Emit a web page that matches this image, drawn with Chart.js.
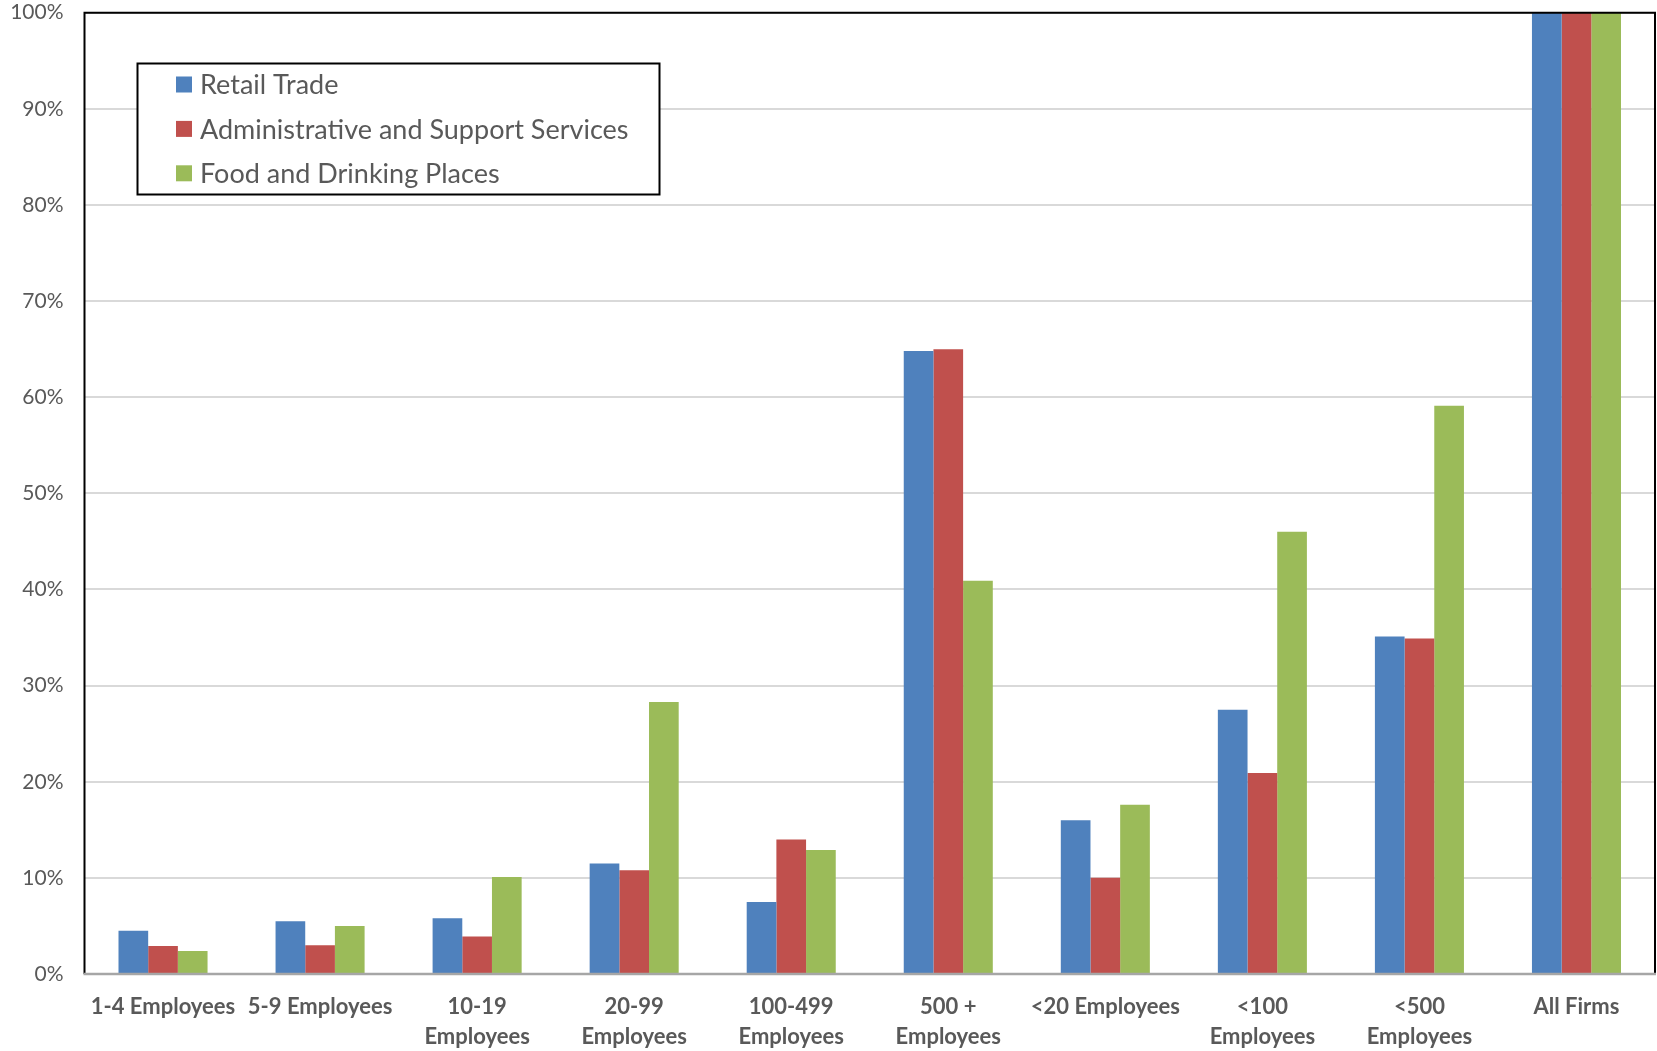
<!DOCTYPE html>
<html>
<head>
<meta charset="utf-8">
<script src="https://cdn.jsdelivr.net/npm/chart.js@4.4.1/dist/chart.umd.min.js"></script>
<style>
  html, body { margin: 0; padding: 0; background: #fff; }
  #wrap { width: 1657px; height: 1051px; position: relative; }
</style>
</head>
<body>
<div id="wrap"><canvas id="firmChart"></canvas></div>
<script>
// categories (x axis), multi-line labels as arrays
const categories = [
  "1-4 Employees",
  "5-9 Employees",
  ["10-19", "Employees"],
  ["20-99", "Employees"],
  ["100-499", "Employees"],
  ["500 +", "Employees"],
  "<20 Employees",
  ["<100", "Employees"],
  ["<500", "Employees"],
  "All Firms",
];

const seriesNames = [
  "Retail Trade",
  "Administrative and Support Services",
  "Food and Drinking Places",
];

// percent values
const retailTrade = [4.5, 5.5, 5.8, 11.5, 7.5, 64.8, 16.0, 27.5, 35.1, 100];
const adminSupport = [2.9, 3.0, 3.9, 10.8, 14.0, 65.0, 10.0, 20.9, 34.9, 100];
const foodDrinking = [2.4, 5.0, 10.1, 28.3, 12.9, 40.9, 17.6, 46.0, 59.1, 100];

const yTicks = [0, 10, 20, 30, 40, 50, 60, 70, 80, 90, 100];

const colors = ["#4F81BD", "#C0504D", "#9BBB59"];
const textGray = "#595959";
const fontFamily = "Lato, 'Open Sans', sans-serif";

// legend box drawn inside the plot, like the spreadsheet original
const boxLegend = {
  id: "boxLegend",
  afterDraw(chart) {
    const c = chart.ctx;
    const x0 = 137.5, y0 = 63.5, w = 522, h = 131;
    c.save();
    c.fillStyle = "#fff";
    c.fillRect(x0, y0, w, h);
    c.strokeStyle = "#000";
    c.lineWidth = 2;
    c.strokeRect(x0, y0, w, h);
    c.font = "27px " + fontFamily;
    c.textBaseline = "middle";
    chart.data.datasets.forEach(function (ds, i) {
      const cy = 84.5 + i * 44.4;
      c.fillStyle = ds.backgroundColor;
      c.fillRect(176, cy - 8, 16, 16);
      c.fillStyle = textGray;
      c.fillText(ds.label, 200, cy + 1);
    });
    c.restore();
  },
};

// frame around the plot area: black top/left/right, grey baseline
const plotFrame = {
  id: "plotFrame",
  afterDatasetsDraw(chart) {
    const a = chart.chartArea;
    const c = chart.ctx;
    c.save();
    c.strokeStyle = "#000";
    c.lineWidth = 2;
    c.beginPath();
    c.moveTo(a.left, a.bottom);
    c.lineTo(a.left, a.top);
    c.lineTo(a.right, a.top);
    c.lineTo(a.right, a.bottom);
    c.stroke();
    c.strokeStyle = "#a6a6a6";
    c.lineWidth = 2.5;
    c.beginPath();
    c.moveTo(a.left - 1, a.bottom);
    c.lineTo(a.right + 1, a.bottom);
    c.stroke();
    c.restore();
  },
};

const ctx = document.querySelector("#firmChart").getContext("2d");
const myChart = new Chart(ctx, {
  type: "bar",
  data: {
    labels: categories,
    datasets: [
      { label: seriesNames[0], data: retailTrade, backgroundColor: colors[0] },
      { label: seriesNames[1], data: adminSupport, backgroundColor: colors[1] },
      { label: seriesNames[2], data: foodDrinking, backgroundColor: colors[2] },
    ],
  },
  options: {
    responsive: true,
    maintainAspectRatio: false,
    animation: false,
    layout: { padding: { top: 0, right: 2, left: 0, bottom: 0 } },
    datasets: {
      bar: { categoryPercentage: 0.567, barPercentage: 1.0, borderWidth: 0 },
    },
    plugins: {
      legend: { display: false },
      tooltip: { enabled: false },
    },
    scales: {
      x: {
        grid: { display: false, drawTicks: false },
        border: { display: false },
        ticks: {
          autoSkip: false,
          maxRotation: 0,
          minRotation: 0,
          padding: 18,
          color: textGray,
          font: { family: fontFamily, size: 22, weight: "bold", lineHeight: 1.36 },
        },
        afterFit(scale) {
          scale.height = 1051 - 974;
        },
      },
      y: {
        min: 0,
        max: 100,
        afterBuildTicks(scale) {
          scale.ticks = yTicks.map((v) => ({ value: v }));
        },
        grid: { color: "#d9d9d9", lineWidth: 2, drawTicks: false },
        border: { display: false },
        ticks: {
          padding: 21,
          color: textGray,
          font: { family: fontFamily, size: 21 },
          callback: (v) => v + "%",
        },
        afterFit(scale) {
          scale.width = 84.5;
          scale.paddingTop = 12.7;
          scale.paddingBottom = 0;
        },
      },
    },
  },
  plugins: [plotFrame, boxLegend],
});
</script>
</body>
</html>
